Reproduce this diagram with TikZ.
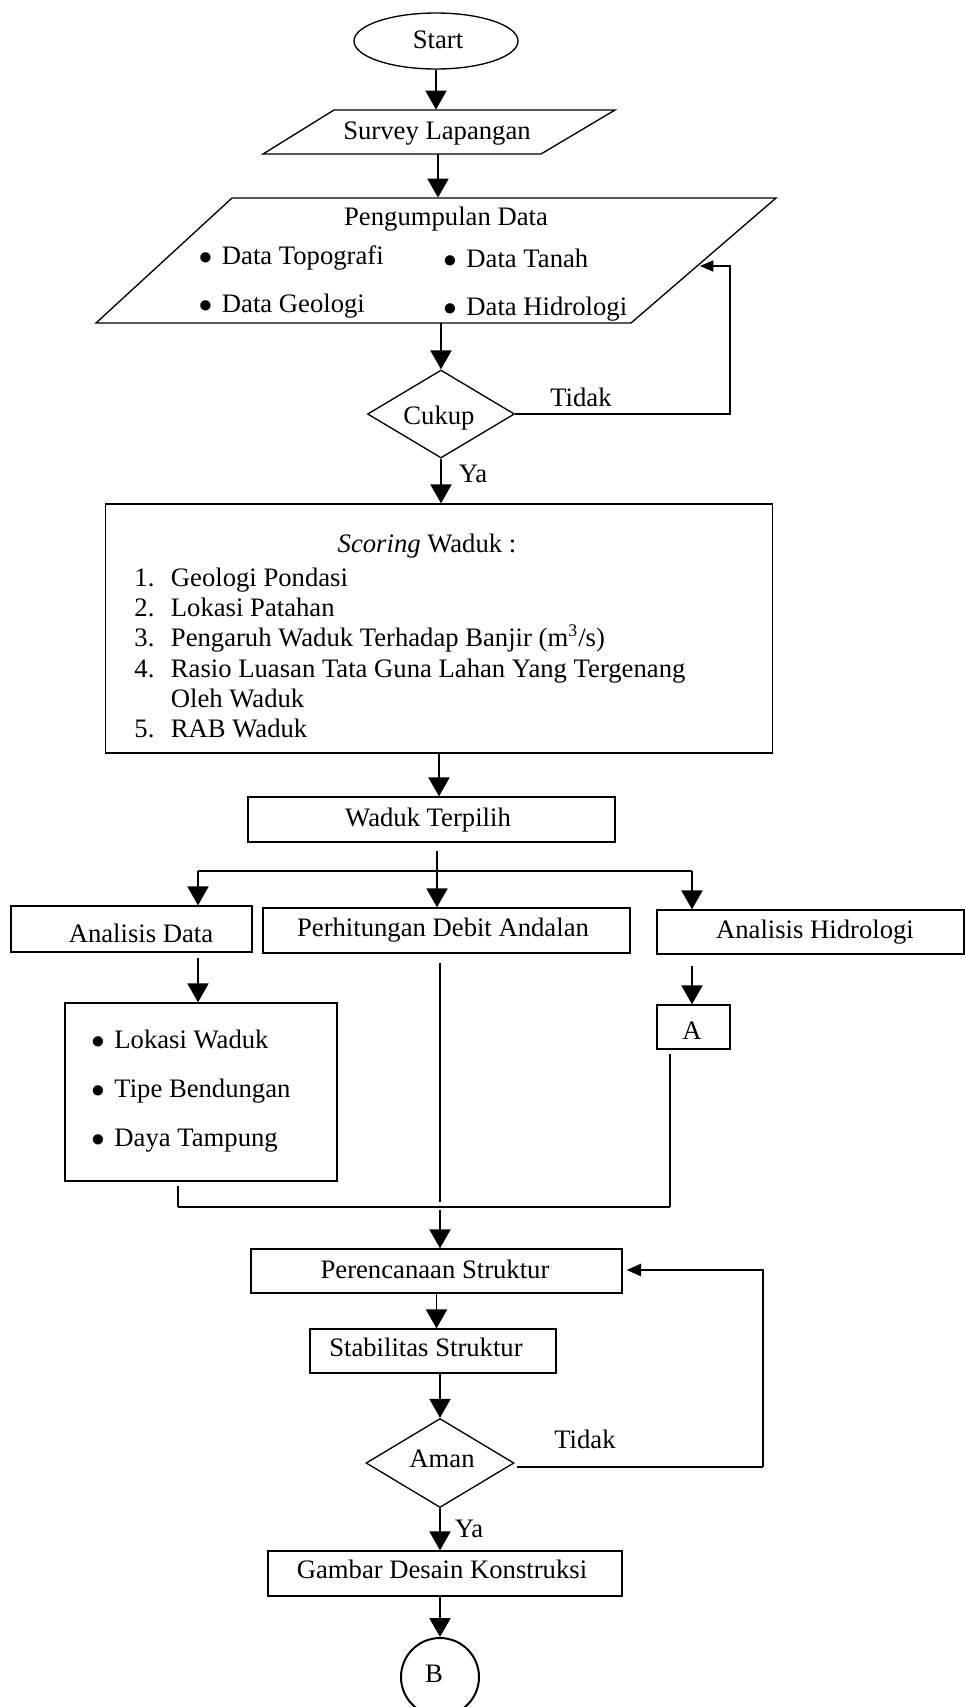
\documentclass[tikz,border=0pt]{standalone}
\usepackage{fontspec}
\setmainfont{Liberation Serif}
\usetikzlibrary{shapes.geometric,arrows.meta,calc}
\newcommand\upx{*0.45pt}
\newcommand\bul{\makebox[10.35pt][l]{$\bullet$}}
\begin{document}
\begin{tikzpicture}[x=0.45pt,y=-0.45pt,
  every node/.style={font=\fontsize{12}{14}\selectfont},
  ln/.style={line width=0.6pt},
  box/.style={draw, line width=0.6pt, rectangle, inner sep=0pt},
  arr/.style={line width=0.6pt, -{Triangle[length=8.5pt,width=9.5pt]}},
  arrs/.style={line width=0.6pt, -{Triangle[length=6pt,width=5pt]}},
  arrt/.style={line width=1pt, -{Triangle[length=6.5pt,width=5.5pt]}},
  lbl/.style={anchor=base, inner sep=0pt},
  lblw/.style={anchor=base west, inner sep=0pt},
  ghost/.style={inner sep=0pt, minimum width=40\upx}
]
\useasboundingbox (0,0) rectangle (964,1707);

% Start
\node[draw, ellipse, line width=0.6pt, minimum width=164\upx, minimum height=56\upx, inner sep=0pt] (start) at (436,41) {};
\node[lbl] at (438,48) {Start};

% Survey Lapangan
\draw[ln] (334,110) -- (615,110) -- (541,154) -- (263,154) -- cycle;
\node[ghost, minimum height=44\upx] (surv) at (438,132) {};
\node[lbl] at (437,139) {Survey Lapangan};

% Pengumpulan Data
\draw[ln] (232,198) -- (776,198) -- (631,323) -- (96,323) -- cycle;
\node[ghost, minimum height=125\upx] (peng) at (441,260.5) {};
\node[lbl] at (446,225) {Pengumpulan Data};
\node[lblw] at (198.5,264) {\bul Data Topografi};
\node[lblw] at (443,267) {\bul Data Tanah};
\node[lblw] at (198.5,312) {\bul Data Geologi};
\node[lblw] at (443,315) {\bul Data Hidrologi};

% Cukup
\node[draw, diamond, line width=0.6pt, minimum width=147\upx, minimum height=88\upx, inner sep=0pt] (cukup) at (441,414) {};
\node[lbl] at (439,424) {Cukup};
\coordinate (t1) at (730,414);
\coordinate (t2) at (730,266);
\coordinate (t3) at (700,266);
\draw[arrs] (cukup.east) -- (t1) -- (t2) -- (t3);
\node[lbl] at (581,406) {Tidak};

\draw[arr] (start.south) -- (start.south |- surv.north);
\draw[arr] (surv.south) -- (surv.south |- peng.north);
\draw[arr] (peng.south) -- (peng.south |- cukup.north);

% Scoring
\node[box, minimum width=667\upx, minimum height=249\upx] (scoring) at (439,628.5) {};
\draw[arr] (cukup.south) -- (cukup.south |- scoring.north);
\node[lbl] at (473,482) {Ya};
\node[lbl] at (427,552) {\textit{Scoring} Waduk :};
\node[lblw] at (134,586) {1.};
\node[lblw] at (170.5,586) {Geologi Pondasi};
\node[lblw] at (134,616) {2.};
\node[lblw] at (170.5,616) {Lokasi Patahan};
\node[lblw] at (134,646) {3.};
\node[lblw] at (170.5,646) {Pengaruh Waduk Terhadap Banjir (m\textsuperscript{3}/s)};
\node[lblw] at (134,677) {4.};
\node[lblw] at (170.5,677) {Rasio Luasan Tata Guna Lahan Yang Tergenang};
\node[lblw] at (170.5,707) {Oleh Waduk};
\node[lblw] at (134,737) {5.};
\node[lblw] at (170.5,737) {RAB Waduk};

% Waduk Terpilih
\node[box, minimum width=367\upx, minimum height=45\upx] (waduk) at (431.5,819.5) {};
\node[lbl] at (428,826) {Waduk Terpilih};
\draw[arr] (scoring.south) -- (scoring.south |- waduk.north);

% Three branches
\node[box, minimum width=241\upx, minimum height=46\upx] (anad) at (131.5,929) {};
\node[lbl] at (141,942) {Analisis Data};
\node[box, minimum width=367\upx, minimum height=45\upx] (perh) at (446.5,930.5) {};
\node[lbl] at (443,936) {Perhitungan Debit Andalan};
\node[box, minimum width=307\upx, minimum height=44\upx] (anhid) at (810.5,932) {};
\node[lbl] at (815,938) {Analisis Hidrologi};

\coordinate (bM) at (437,871);
\coordinate (bL) at (198,871);
\coordinate (bR) at (692,871);
\draw[ln, shorten <=3.6pt] (waduk.south -| bM) -- (bM);
\draw[arr] (bM) -- (bM |- perh.north);
\draw[ln] (bL) -- (bR);
\draw[arr] (bL) -- (bL |- anad.north);
\draw[arr] (bR) -- (bR |- anhid.north);

% List box
\node[box, minimum width=272\upx, minimum height=178\upx] (list) at (201,1092) {};
\node[lblw] at (91,1048) {\bul Lokasi Waduk};
\node[lblw] at (91,1097) {\bul Tipe Bendungan};
\node[lblw] at (91,1146) {\bul Daya Tampung};
\draw[arr, shorten <=2.2pt] (anad.south -| bL) -- (bL |- list.north);

% A
\node[box, minimum width=73\upx, minimum height=44\upx] (A) at (693.5,1027) {};
\node[lbl] at (692,1039) {A};
\draw[arr, shorten <=5pt] (anhid.south -| bR) -- (bR |- A.north);

% Merge
\coordinate (mL) at (178,1207);
\coordinate (mR) at (670,1207);
\coordinate (mM) at (440,1207);
\draw[ln, shorten <=1.8pt] (list.south -| mL) -- (mL);
\draw[ln] (mL) -- (mR);
\draw[ln, shorten <=1.8pt] (A.south -| mR) -- (mR);
\draw[ln, shorten <=4pt, shorten >=2.2pt] (perh.south -| mM) -- (mM);

% Perencanaan Struktur
\node[box, minimum width=371\upx, minimum height=44\upx] (peren) at (436.5,1271) {};
\node[lbl] at (435,1278) {Perencanaan Struktur};
\draw[arr, shorten <=1.3pt] (mM) -- (mM |- peren.north);

% Stabilitas Struktur
\node[box, minimum width=246\upx, minimum height=44\upx] (stab) at (433,1351) {};
\node[lbl] at (426,1356) {Stabilitas Struktur};
\draw[arr] (peren.south) -- (peren.south |- stab.north);

% Aman
\node[draw, diamond, line width=0.6pt, minimum width=148\upx, minimum height=89\upx, inner sep=0pt] (aman) at (440,1463) {};
\node[lbl] at (442,1467) {Aman};
\draw[arr] (aman.north |- stab.south) -- (aman.north);
\coordinate (u0) at (517,1467);
\coordinate (u1) at (763,1467);
\coordinate (u2) at (763,1270);
\draw[ln] (u0) -- (u1);
\draw[arrt, shorten >=1.8pt] (u1) -- (u2) -- (peren.east |- u2);
\node[lbl] at (585,1448) {Tidak};

% Gambar Desain Konstruksi
\node[box, minimum width=354\upx, minimum height=45\upx] (gambar) at (445,1573.5) {};
\node[lbl] at (442,1578) {Gambar Desain Konstruksi};
\draw[arr] (aman.south) -- (aman.south |- gambar.north);
\node[lbl] at (469,1537) {Ya};

% B
\node[draw, circle, line width=0.9pt, minimum size=78\upx, inner sep=0pt] (B) at (440,1677) {};
\node[lbl] at (434,1682) {B};
\draw[arr] (B.north |- gambar.south) -- (B.north);
\end{tikzpicture}
\end{document}
